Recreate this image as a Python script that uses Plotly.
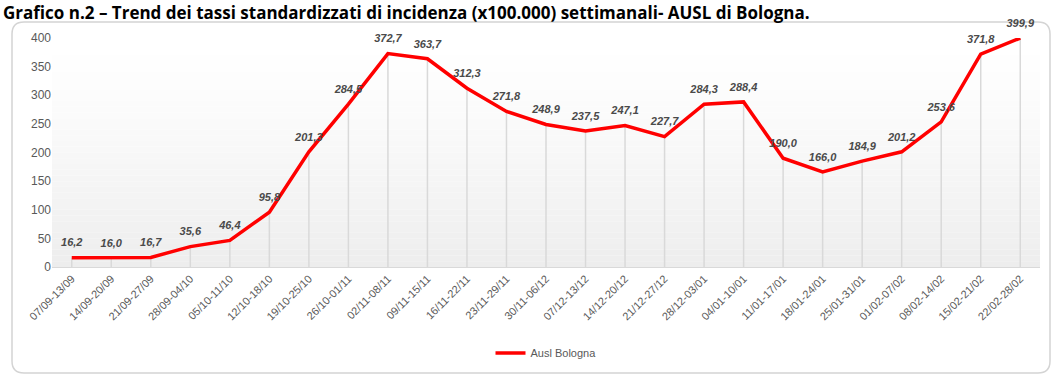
import plotly.graph_objects as go

categories = ["07/09-13/09", "14/09-20/09", "21/09-27/09", "28/09-04/10", "05/10-11/10",
              "12/10-18/10", "19/10-25/10", "26/10-01/11", "02/11-08/11", "09/11-15/11",
              "16/11-22/11", "23/11-29/11", "30/11-06/12", "07/12-13/12", "14/12-20/12",
              "21/12-27/12", "28/12-03/01", "04/01-10/01", "11/01-17/01", "18/01-24/01",
              "25/01-31/01", "01/02-07/02", "08/02-14/02", "15/02-21/02", "22/02-28/02"]
values = [16.2, 16.0, 16.7, 35.6, 46.4, 95.8, 201.3, 284.5, 372.7, 363.7, 312.3, 271.8,
          248.9, 237.5, 247.1, 227.7, 284.3, 288.4, 190.0, 166.0, 184.9, 201.2, 253.6,
          371.8, 399.9]
series_name = "Ausl Bologna"
y_ticks = [0, 50, 100, 150, 200, 250, 300, 350, 400]
title = "Grafico n.2 – Trend dei tassi standardizzati di incidenza (x100.000) settimanali- AUSL di Bologna."

W, H = 1064, 383
ML, MR, MT, MB = 52, 24, 38, 116
PW, PH = W - ML - MR, H - MT - MB

def px_x(x):
    return (x - ML) / PW

def px_y(y):
    return (H - MB - y) / PH

fig = go.Figure()

# drop lines
fig.add_trace(go.Scatter(
    x=categories, y=values, mode="markers", marker=dict(size=0.1, color="rgba(0,0,0,0)"),
    error_y=dict(type="data", symmetric=False, array=[0] * len(values), arrayminus=values,
                 color="#d9d9d9", thickness=1.5, width=0),
    showlegend=False, hoverinfo="skip"))

fig.add_trace(go.Scatter(
    x=categories, y=values, mode="lines+markers+text", name=series_name,
    line=dict(color="#ff0000", width=3.5),
    marker=dict(size=12, color="rgba(0,0,0,0)"),
    text=values, texttemplate="%{y:.1f}", textposition="top center", cliponaxis=False,
    textfont=dict(family="Liberation Sans", size=11, color="#4a4a4a", style="italic",
                  weight="bold")))

shapes = []
# gradient background bands
n = 40
for i in range(n):
    t = (i + 0.5) / n
    g = int(round(255 - (255 - 237) * (1 - t) ** 1.3))
    shapes.append(dict(type="rect", xref="x domain", yref="y domain", x0=0, x1=1,
                       y0=i / n, y1=(i + 1) / n, fillcolor=f"rgb({g},{g},{g})",
                       line=dict(width=0), layer="below"))

# rounded border
x0, x1 = px_x(12), px_x(1050)
y0, y1 = px_y(373), px_y(22)
rx, ry = 12 / PW, 12 / PH
path = (f"M {x0+rx},{y0} L {x1-rx},{y0} Q {x1},{y0} {x1},{y0+ry} "
        f"L {x1},{y1-ry} Q {x1},{y1} {x1-rx},{y1} L {x0+rx},{y1} "
        f"Q {x0},{y1} {x0},{y1-ry} L {x0},{y0+ry} Q {x0},{y0} {x0+rx},{y0} Z")
shapes.append(dict(type="path", xref="paper", yref="paper", path=path,
                   line=dict(color="#d4d4d4", width=1.5), fillcolor="rgba(0,0,0,0)", layer="below"))

fig.update_layout(
    width=W, height=H,
    margin=dict(l=ML, r=MR, t=MT, b=MB),
    paper_bgcolor="white", plot_bgcolor="white",
    separators=",.",
    shapes=shapes,
    title=dict(text=f"<b>{title}</b>", x=3 / W, xanchor="left", y=1 - 13 / H, yanchor="middle",
               font=dict(family="Open Sans", size=17, color="black")),
    xaxis=dict(type="category", range=[-0.5, len(categories) - 0.5], showgrid=False,
               showline=True, linecolor="#d9d9d9", linewidth=1, ticks="", tickangle=-45,
               tickfont=dict(family="Liberation Sans", size=11, color="#595959")),
    yaxis=dict(range=[0, 400], tickvals=y_ticks, showgrid=False, zeroline=False, ticks="",
               tickfont=dict(family="Liberation Sans", size=12, color="#595959")),
    legend=dict(orientation="h", x=0.5, xanchor="center", y=px_y(353), yanchor="middle",
                font=dict(family="Liberation Sans", size=11, color="#595959")),
    showlegend=True,
)

fig.write_html("out.html", config={"displayModeBar": False},
               post_script="document.body.style.margin='0';")
